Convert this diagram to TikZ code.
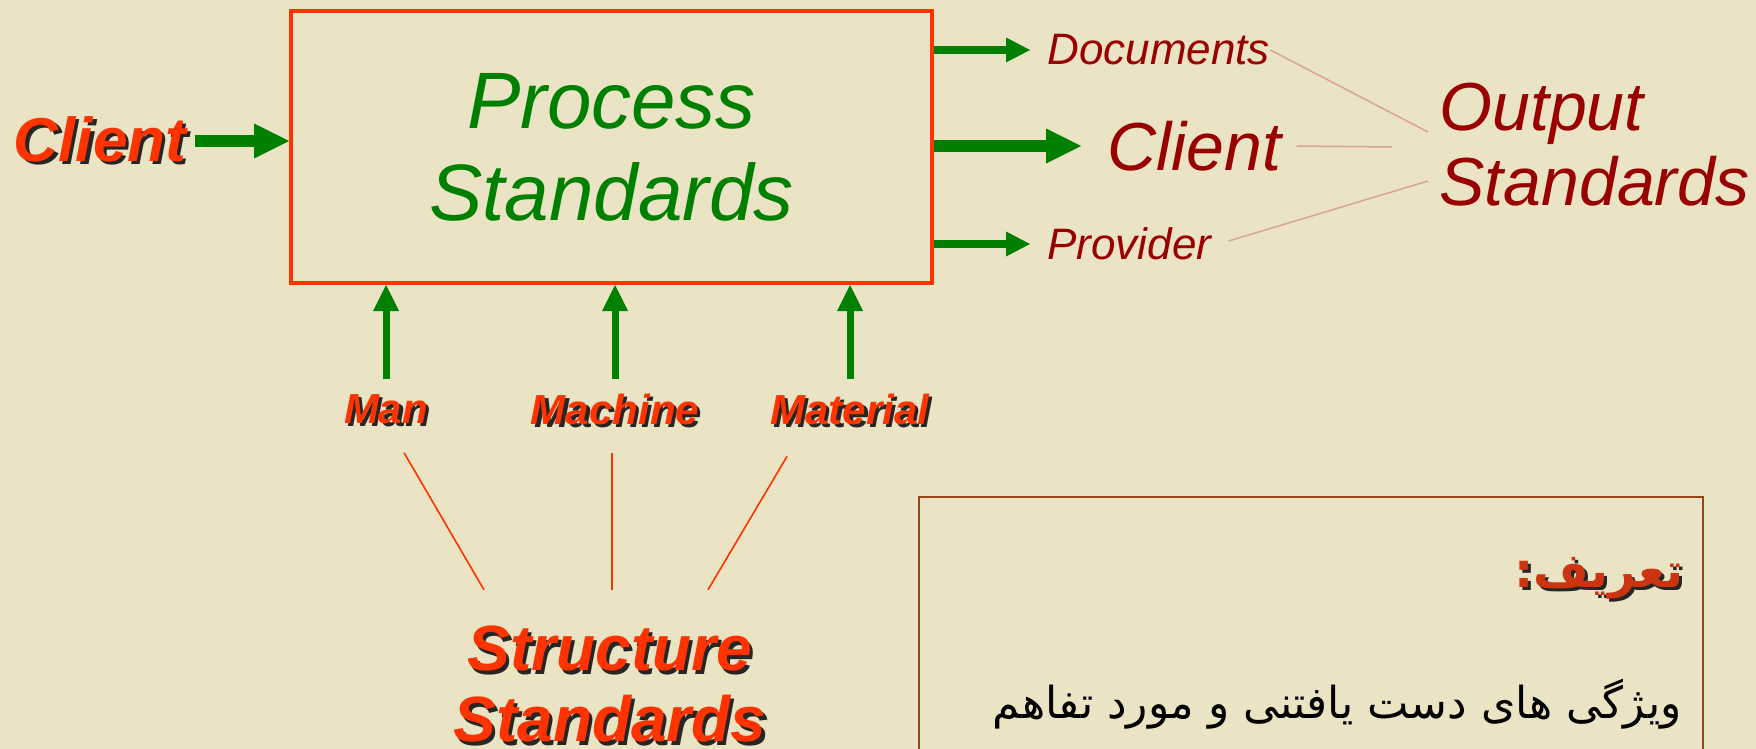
\documentclass[tikz,border=0pt]{standalone}
\usepackage{fontspec}
\setmainfont{Liberation Sans}
\newfontfamily\arabicfont[Script=Arabic]{DejaVu Sans}
\TeXXeTstate=1
\usetikzlibrary{arrows.meta,calc}
\definecolor{bg}{HTML}{EAE3C4}
\definecolor{redor}{HTML}{FF3300}
\definecolor{grn}{HTML}{008000}
\definecolor{dred}{HTML}{990000}
\definecolor{salmon}{HTML}{D8A590}
\definecolor{brownb}{HTML}{A0401A}
\definecolor{defred}{HTML}{CC3311}
\newcommand{\shtext}[1]{\leavevmode\rlap{\kern1.6pt\raisebox{-1.6pt}{\color{black!85}#1}}#1}
\begin{document}
\begin{tikzpicture}[x=0.5pt,y=-0.5pt,
  procbox/.style={draw=redor, line width=2pt, minimum width=320.5pt, minimum height=136pt,
    inner sep=0pt, align=center, text=grn, font=\itshape\fontsize{40}{46}\selectfont},
  inlbl/.style={inner sep=0pt, text=redor, font=\bfseries\itshape\fontsize{31}{37}\selectfont},
  mlbl/.style={inner sep=0pt, text=redor, font=\bfseries\itshape\fontsize{21}{25}\selectfont},
  reslbl/.style={inner sep=0pt, anchor=west, text=dred, font=\itshape\fontsize{22}{26}\selectfont},
  bigarrow/.style={draw=grn, line width=6pt, -{Triangle[length=17.5pt,width=17.5pt,line width=0pt]}},
  smallarrow/.style={draw=grn, line width=4pt, -{Triangle[length=12pt,width=12.5pt,line width=0pt]}},
  uparrow/.style={draw=grn, line width=3.5pt, -{Triangle[length=13pt,width=13pt,line width=0pt]}},
  outline/.style={draw=salmon, line width=0.75pt},
  strline/.style={draw=redor, line width=0.8pt},
  defbox/.style={draw=brownb, line width=1pt, inner sep=0pt}]
\fill[bg] (0,0) rectangle (1756,749);
\useasboundingbox (0,0) rectangle (1756,749);

% process box
\node[procbox] (proc) at (611.5,147) {Process\\Standards};

% input client
\node[inlbl] (clientL) at (100,141) {\shtext{Client}};
\draw[bigarrow, shorten <=4pt] (clientL.east) -- (clientL.east -| proc.west);

% outputs
\node[reslbl] (docs) at (1047,50) {Documents};
\node[reslbl, font=\itshape\fontsize{34}{40}\selectfont] (clientR) at (1107,146) {Client};
\node[reslbl] (prov) at (1047,244) {Provider};
\draw[smallarrow, shorten >=8.5pt] (docs.west -| proc.east) -- (docs.west);
\draw[bigarrow, shorten >=13pt] (clientR.west -| proc.east) -- (clientR.west);
\draw[smallarrow, shorten >=8.5pt] (prov.west -| proc.east) -- (prov.west);

\node[inner sep=0pt, anchor=west, text=dred, align=left,
  font=\itshape\fontsize{34}{37.5}\selectfont] (out) at (1439,145) {Output\\Standards};
\draw[outline] (docs.east) -- ([shift={(-11,-13)}]out.west);
\draw[outline] ([xshift=7.5pt]clientR.east) -- ([shift={(-47,2)}]out.west);
\draw[outline] ([shift={(17,-3)}]prov.east) -- ([shift={(-11,36)}]out.west);

% structure inputs
\node[mlbl] (man) at (386,411) {\shtext{Man}};
\node[mlbl] (mach) at (615,411) {\shtext{Machine}};
\node[mlbl] (mat) at (850,411) {\shtext{Material}};
\draw[uparrow, shorten <=7.5pt] (man.north) -- (man.north |- proc.south);
\draw[uparrow, shorten <=7.5pt] (mach.north) -- (mach.north |- proc.south);
\draw[uparrow, shorten <=7.5pt] (mat.north) -- (mat.north |- proc.south);

\node[inlbl, align=center, font=\bfseries\itshape\fontsize{32}{35.5}\selectfont] (struct) at (610,686)
  {\shtext{Structure}\\\shtext{Standards}};
\draw[strline] ([shift={(18,25)}]man.south) -- ([shift={(-126,-36)}]struct.north);
\draw[strline] ([shift={(-3,25)}]mach.south) -- ([shift={(2,-36)}]struct.north);
\draw[strline] ([shift={(-63,28)}]mat.south) -- ([shift={(98,-36)}]struct.north);

% definition box
\node[defbox, anchor=north west, minimum width=392pt, minimum height=150pt] (dbox) at (918,496) {};
\node[anchor=east, inner sep=0pt, text=defred, font=\arabicfont\bfseries\fontsize{24}{28}\selectfont]
  (tarif) at (1684,580) {\shtext{\beginR تعریف:\endR}};
\node[anchor=east, inner sep=0pt, text=black, font=\arabicfont\fontsize{22}{26}\selectfont]
  (defn) at (1682,704) {\beginR ویژگی های دست یافتنی و مورد تفاهم\endR};
\end{tikzpicture}
\end{document}
